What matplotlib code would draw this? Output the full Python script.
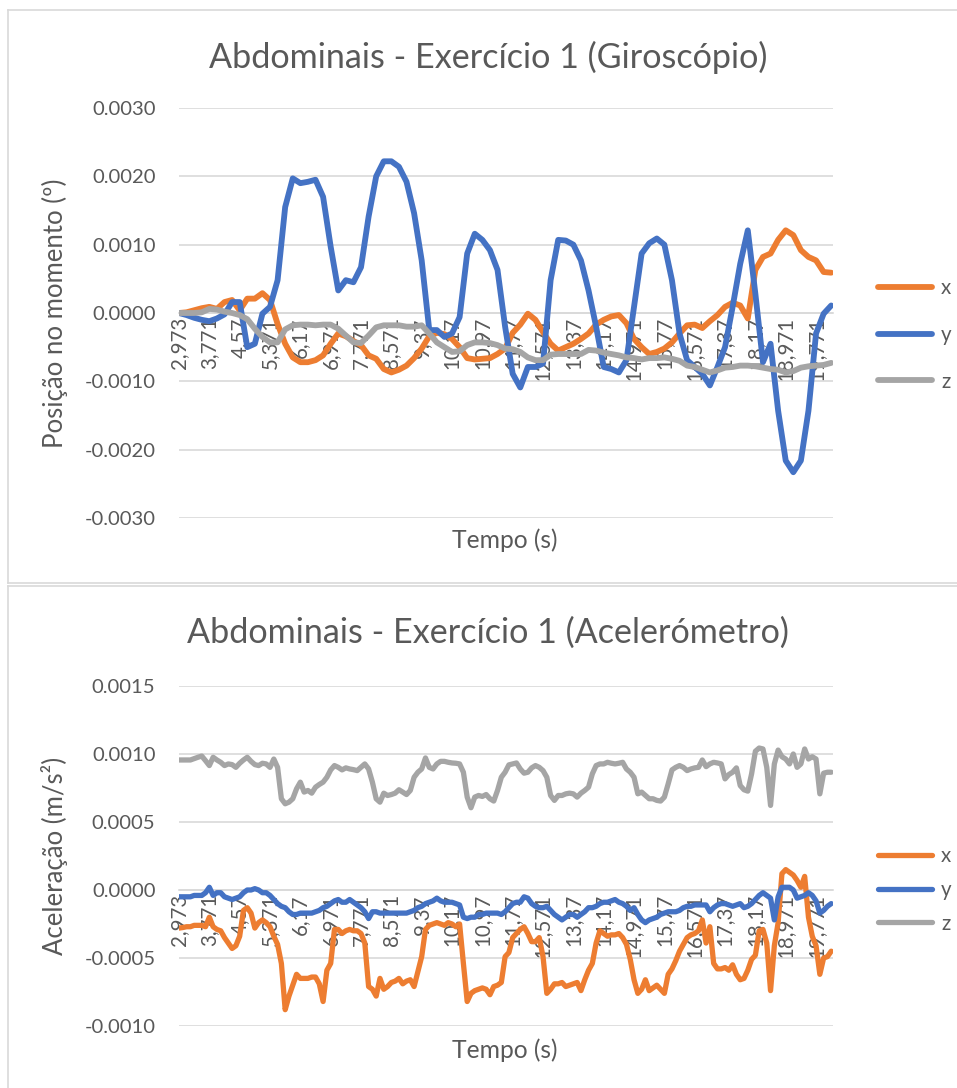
import numpy as np
import matplotlib
matplotlib.use("Agg")
import matplotlib.pyplot as plt
from matplotlib.lines import Line2D
from matplotlib.ticker import FormatStrFormatter

plt.rcParams["font.family"] = ["Lato", "DejaVu Sans"]

# ---- data (values in units of 1e-3) ----
# gyroscope, one sample every 0.2 s starting at 2.973 s
gyro_t = np.round(2.973 + 0.2 * np.arange(87), 3)
gyro_x = [0, 0.01, 0.04, 0.07, 0.09, 0.06, 0.16, 0.19, 0.04, 0.21,
          0.21, 0.29, 0.19, -0.16, -0.45, -0.65, -0.72, -0.72, -0.69, -0.62,
          -0.45, -0.3, -0.34, -0.41, -0.47, -0.62, -0.67, -0.82, -0.87, -0.83,
          -0.77, -0.66, -0.52, -0.34, -0.29, -0.31, -0.38, -0.5, -0.66, -0.68,
          -0.67, -0.66, -0.6, -0.52, -0.29, -0.17, -0.01, -0.1, -0.28, -0.45,
          -0.55, -0.5, -0.45, -0.38, -0.3, -0.17, -0.1, -0.05, -0.03, -0.15,
          -0.38, -0.5, -0.6, -0.57, -0.52, -0.43, -0.3, -0.18, -0.17, -0.22,
          -0.12, -0.03, 0.09, 0.15, 0.11, -0.08, 0.63, 0.82, 0.87, 1.07,
          1.21, 1.14, 0.92, 0.82, 0.77, 0.6, 0.59]
gyro_y = [0, -0.03, -0.07, -0.1, -0.12, -0.08, -0.02, 0.16, 0.16, -0.5,
          -0.45, -0.01, 0.09, 0.48, 1.55, 1.97, 1.9, 1.92, 1.95, 1.7,
          0.97, 0.33, 0.48, 0.45, 0.67, 1.41, 2.0, 2.22, 2.22, 2.14,
          1.92, 1.46, 0.77, -0.25, -0.25, -0.35, -0.3, -0.06, 0.87, 1.16,
          1.07, 0.92, 0.63, -0.2, -0.89, -1.09, -0.79, -0.79, -0.74, 0.48,
          1.07, 1.06, 1.0, 0.77, 0.33, -0.2, -0.79, -0.82, -0.87, -0.69,
          0.09, 0.87, 1.02, 1.09, 1.0, 0.48, -0.3, -0.69, -0.79, -0.89,
          -1.06, -0.79, -0.5, 0.09, 0.72, 1.21, 0.28, -0.72, -0.45, -1.43,
          -2.16, -2.33, -2.16, -1.43, -0.3, -0.01, 0.11]
gyro_z = [0, 0, 0, 0.01, 0.06, 0.05, 0.02, 0, -0.03, -0.09,
          -0.23, -0.35, -0.43, -0.43, -0.24, -0.18, -0.17, -0.17, -0.18, -0.17,
          -0.17, -0.23, -0.33, -0.43, -0.44, -0.33, -0.21, -0.18, -0.18, -0.18,
          -0.2, -0.2, -0.18, -0.3, -0.43, -0.5, -0.57, -0.56, -0.47, -0.43,
          -0.43, -0.44, -0.47, -0.52, -0.53, -0.57, -0.65, -0.69, -0.69, -0.61,
          -0.6, -0.6, -0.6, -0.6, -0.54, -0.55, -0.58, -0.6, -0.62, -0.65,
          -0.66, -0.68, -0.66, -0.66, -0.65, -0.67, -0.7, -0.77, -0.79, -0.83,
          -0.87, -0.84, -0.8, -0.79, -0.77, -0.77, -0.78, -0.8, -0.82, -0.83,
          -0.87, -0.85, -0.8, -0.78, -0.77, -0.76, -0.73]

# accelerometer, one sample every 0.1 s starting at 2.973 s
acc_t = np.round(2.973 + 0.1 * np.arange(173), 3)
acc_x = [-0.28, -0.276, -0.27, -0.27, -0.26, -0.26, -0.26, -0.27, -0.2, -0.27,
         -0.29, -0.3, -0.35, -0.39, -0.43, -0.41, -0.34, -0.15, -0.13, -0.17,
         -0.28, -0.24, -0.22, -0.24, -0.27, -0.34, -0.4, -0.54, -0.88, -0.78,
         -0.7, -0.62, -0.65, -0.65, -0.65, -0.64, -0.64, -0.69, -0.82, -0.59,
         -0.54, -0.29, -0.29, -0.32, -0.3, -0.29, -0.3, -0.3, -0.32, -0.39,
         -0.71, -0.73, -0.78, -0.65, -0.73, -0.71, -0.68, -0.67, -0.65, -0.69,
         -0.67, -0.66, -0.71, -0.6, -0.49, -0.29, -0.26, -0.25, -0.24, -0.25,
         -0.26, -0.24, -0.25, -0.27, -0.25, -0.54, -0.82, -0.76, -0.74, -0.73,
         -0.72, -0.73, -0.77, -0.71, -0.7, -0.68, -0.49, -0.46, -0.35, -0.32,
         -0.29, -0.27, -0.32, -0.38, -0.38, -0.35, -0.49, -0.76, -0.73, -0.69,
         -0.69, -0.68, -0.71, -0.7, -0.69, -0.68, -0.74, -0.66, -0.59, -0.54,
         -0.39, -0.3, -0.32, -0.34, -0.33, -0.33, -0.32, -0.35, -0.4, -0.51,
         -0.66, -0.76, -0.73, -0.66, -0.74, -0.72, -0.7, -0.73, -0.76, -0.62,
         -0.58, -0.52, -0.45, -0.4, -0.35, -0.33, -0.32, -0.3, -0.22, -0.39,
         -0.27, -0.54, -0.58, -0.58, -0.57, -0.59, -0.55, -0.62, -0.66, -0.65,
         -0.59, -0.51, -0.48, -0.3, -0.29, -0.39, -0.74, -0.41, -0.24, 0.12,
         0.15, 0.13, 0.11, 0.07, 0.02, 0.1, -0.2, -0.34, -0.41, -0.62,
         -0.5, -0.49, -0.45]
acc_y = [-0.05, -0.05, -0.05, -0.05, -0.04, -0.04, -0.04, -0.02, 0.02, -0.04,
         -0.02, -0.02, -0.05, -0.06, -0.07, -0.06, -0.05, -0.02, 0.0, 0.0,
         0.01, 0.0, -0.02, -0.02, -0.04, -0.07, -0.1, -0.12, -0.13, -0.16,
         -0.18, -0.18, -0.17, -0.17, -0.17, -0.17, -0.16, -0.15, -0.13, -0.12,
         -0.1, -0.08, -0.07, -0.09, -0.09, -0.07, -0.09, -0.11, -0.13, -0.16,
         -0.21, -0.16, -0.16, -0.17, -0.17, -0.17, -0.17, -0.17, -0.17, -0.17,
         -0.17, -0.16, -0.15, -0.13, -0.12, -0.1, -0.09, -0.08, -0.06, -0.08,
         -0.09, -0.09, -0.09, -0.1, -0.11, -0.2, -0.21, -0.2, -0.2, -0.18,
         -0.18, -0.17, -0.17, -0.17, -0.17, -0.18, -0.16, -0.13, -0.1, -0.09,
         -0.09, -0.05, -0.06, -0.1, -0.12, -0.13, -0.13, -0.12, -0.15, -0.18,
         -0.2, -0.22, -0.2, -0.18, -0.18, -0.2, -0.18, -0.16, -0.13, -0.13,
         -0.12, -0.1, -0.09, -0.09, -0.08, -0.07, -0.09, -0.1, -0.12, -0.15,
         -0.13, -0.18, -0.22, -0.24, -0.22, -0.21, -0.2, -0.18, -0.17, -0.16,
         -0.16, -0.16, -0.15, -0.13, -0.12, -0.12, -0.11, -0.11, -0.11, -0.11,
         -0.16, -0.13, -0.11, -0.1, -0.1, -0.11, -0.12, -0.11, -0.1, -0.13,
         -0.12, -0.1, -0.07, -0.04, -0.02, -0.04, -0.06, -0.22, -0.05, 0.02,
         0.02, 0.02, 0.0, -0.06, -0.05, -0.04, -0.02, -0.04, -0.08, -0.17,
         -0.15, -0.12, -0.1]
acc_z = [0.956, 0.956, 0.956, 0.956, 0.966, 0.976, 0.985, 0.951, 0.915, 0.976,
         0.956, 0.939, 0.915, 0.927, 0.922, 0.902, 0.932, 0.956, 0.976, 0.946,
         0.922, 0.915, 0.932, 0.927, 0.902, 0.963, 0.902, 0.671, 0.634, 0.646,
         0.671, 0.744, 0.793, 0.72, 0.732, 0.712, 0.756, 0.776, 0.793, 0.829,
         0.883, 0.915, 0.902, 0.883, 0.898, 0.89, 0.885, 0.878, 0.902, 0.927,
         0.89, 0.793, 0.671, 0.646, 0.712, 0.695, 0.702, 0.712, 0.737, 0.72,
         0.702, 0.732, 0.829, 0.866, 0.89, 0.971, 0.902, 0.89, 0.927, 0.946,
         0.946, 0.939, 0.934, 0.932, 0.927, 0.866, 0.683, 0.605, 0.683, 0.695,
         0.688, 0.702, 0.671, 0.654, 0.732, 0.829, 0.866, 0.92, 0.927, 0.934,
         0.89, 0.859, 0.866, 0.898, 0.915, 0.902, 0.878, 0.829, 0.695, 0.659,
         0.695, 0.695, 0.707, 0.712, 0.707, 0.683, 0.712, 0.732, 0.756, 0.854,
         0.915, 0.927, 0.927, 0.939, 0.932, 0.927, 0.932, 0.939, 0.89, 0.866,
         0.829, 0.707, 0.72, 0.695, 0.671, 0.671, 0.659, 0.654, 0.683, 0.78,
         0.883, 0.902, 0.915, 0.902, 0.878, 0.89, 0.898, 0.902, 0.956, 0.907,
         0.927, 0.939, 0.934, 0.927, 0.817, 0.849, 0.866, 0.898, 0.768, 0.737,
         0.727, 0.854, 1.02, 1.044, 1.037, 0.902, 0.622, 0.927, 1.029, 0.98,
         0.963, 0.927, 1.0, 0.902, 0.927, 1.037, 0.963, 0.98, 0.963, 0.707,
         0.859, 0.866, 0.866]

tick_times = [2.973, 3.771, 4.57, 5.371, 6.17, 6.971, 7.771, 8.571, 9.37, 10.17,
              10.97, 11.77, 12.571, 13.37, 14.17, 14.971, 15.77, 16.571, 17.37,
              18.17, 18.971, 19.771]
tick_labels = [f"{v:g}".replace(".", ",") for v in tick_times]
series_names = ["x", "y", "z"]
colors = ["#ED7D31", "#4472C4", "#A5A5A5"]

TXT = "#595959"
GRID = "#D9D9D9"
W, H = 957, 1088

fig = plt.figure(figsize=(W / 100, H / 100), dpi=100)


def fx(px):
    return px / W


def fy(py):
    return 1 - py / H


# chart frames
fig.add_artist(Line2D([fx(8), fx(8)], [fy(10), fy(583)], color=GRID, lw=1.2))
fig.add_artist(Line2D([fx(8), 1], [fy(10), fy(10)], color=GRID, lw=1.2))
fig.add_artist(Line2D([fx(8), 1], [fy(583), fy(583)], color=GRID, lw=1.2))
fig.add_artist(Line2D([fx(8), 1], [fy(586), fy(586)], color=GRID, lw=1.2))
fig.add_artist(Line2D([fx(8), fx(8)], [fy(586), 0], color=GRID, lw=1.2))


def make_chart(top_px, bot_px, t, series, ylim, yticks, title, title_py,
               ylabel, xlabel_py, leg_py, leg_space, lw):
    ax = fig.add_axes([fx(179), fy(bot_px), fx(833) - fx(179),
                       (bot_px - top_px) / H])
    for vals, name, c in zip(series, series_names, colors):
        ax.plot(t, np.array(vals) * 1e-3, color=c, lw=lw, label=name,
                solid_capstyle="round", solid_joinstyle="round", zorder=3)
    ax.set_xlim(2.973, 20.22)
    ax.set_ylim(*ylim)
    ax.set_yticks(yticks)
    ax.yaxis.set_major_formatter(FormatStrFormatter("%.4f"))
    ax.grid(axis="y", color=GRID, lw=1.2, zorder=0)
    ax.set_axisbelow(True)
    for s in ["top", "right", "left"]:
        ax.spines[s].set_visible(False)
    ax.spines["bottom"].set_position(("data", 0))
    ax.spines["bottom"].set_color(GRID)
    ax.spines["bottom"].set_linewidth(1.2)
    ax.set_xticks(tick_times)
    ax.set_xticklabels(tick_labels, rotation=90, va="top", ha="center")
    ax.tick_params(axis="x", length=0, pad=3, labelsize=14.8, colors=TXT)
    ax.tick_params(axis="y", length=0, pad=17, labelsize=14.6, colors=TXT)
    fig.text(fx(488), fy(title_py), title, ha="center", va="center",
             fontsize=24.6, color=TXT)
    fig.text(fx(55), fy((top_px + bot_px) / 2), ylabel, ha="center",
             va="center", rotation=90, fontsize=18.5, color=TXT)
    fig.text(fx(505), fy(xlabel_py), "Tempo (s)", ha="center", va="center",
             fontsize=17.7, color=TXT)
    leg = ax.legend(loc="center left", bbox_to_anchor=(fx(868), fy(leg_py)),
                    bbox_transform=fig.transFigure, frameon=False,
                    fontsize=14.8, handlelength=2.6, handletextpad=0.45,
                    labelspacing=leg_space, borderpad=0)
    for txt in leg.get_texts():
        txt.set_color(TXT)
    return ax


make_chart(108, 518, gyro_t, [gyro_x, gyro_y, gyro_z], (-0.003, 0.003),
           [-0.003, -0.002, -0.001, 0, 0.001, 0.002, 0.003],
           "Abdominais - Exercício 1 (Giroscópio)", 57,
           "Posição no momento (º)", 540, 335, 1.29, 4.2)
make_chart(686, 1026, acc_t, [acc_x, acc_y, acc_z], (-0.001, 0.0015),
           [-0.001, -0.0005, 0, 0.0005, 0.001, 0.0015],
           "Abdominais - Exercício 1 (Acelerómetro)", 633,
           "Aceleração (m/s²)", 1050, 890, 0.66, 3.8)

fig.savefig("out.png", dpi=100, facecolor="white")
